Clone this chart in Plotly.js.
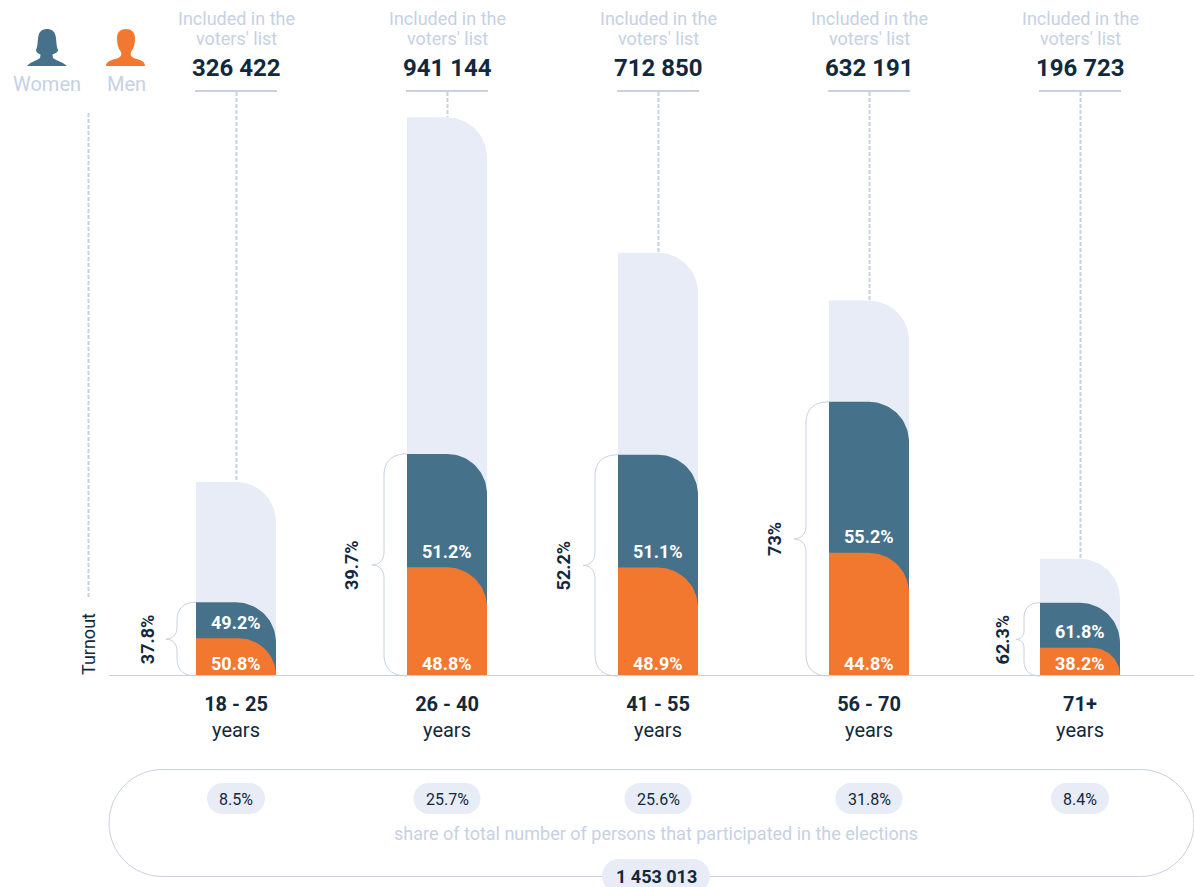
<!DOCTYPE html>
<html>
<head>
<meta charset="utf-8">
<title>Voter turnout by age group</title>
<script src="https://cdn.plot.ly/plotly-3.0.1.min.js"></script>
<style>html,body{margin:0;padding:0;background:#fff;overflow:hidden}#chart{width:1194px;height:887px}</style>
</head>
<body>
<div id="chart"></div>
<script>
const ageBands = ['18 - 25', '26 - 40', '41 - 55', '56 - 70', '71+'];
const bandUnits = ['years', 'years', 'years', 'years', 'years'];
const votersList = [326422, 941144, 712850, 632191, 196723];
const turnoutPct = [37.8, 39.7, 52.2, 73, 62.3];
const womenShare = [49.2, 51.2, 51.1, 55.2, 61.8];
const menShare = [50.8, 48.8, 48.9, 44.8, 38.2];
const electionShare = [8.5, 25.7, 25.6, 31.8, 8.4];
const totalParticipants = 1453013;

const W = 1194, H = 887;
const BASE_Y = 675, ZERO_Y = 675.5, VALUE_PER_PX = 1686, STEP = 211, FIRST_X = 236, HALF = 40, MAXR = 40;
const AXIS_LEFT = 109;
const C = {light:'#e8ecf6', women:'#46718a', men:'#f3782f', ink:'#12293d', mute:'#c6d1e4', line:'#c6d1e4'};
const FONT = 'Roboto, sans-serif';

const fmt = n => String(n).replace(/\B(?=(\d{3})+$)/g, ' ');
const pctTxt = v => v + '%';
const xPx = i => FIRST_X + i * STEP;
const yPx = v => ZERO_Y - v / VALUE_PER_PX;
const P = (x, y) => (x / W) + ',' + (1 - y / H);
const fx = x => x / W, fy = y => 1 - y / H;

const turnoutVotes = votersList.map((v, i) => v * turnoutPct[i] / 100);
const menVotes = turnoutVotes.map((v, i) => v * menShare[i] / 100);

/* A bar with a rounded top-right corner, in data units of the chart's axes */
function barTrace(values, color, name) {
  const xs = [], ys = [];
  values.forEach((v, i) => {
    const hw = HALF / STEP;
    const rPx = Math.min(v / VALUE_PER_PX, MAXR);
    const rx = rPx / STEP, ry = rPx * VALUE_PER_PX;
    xs.push(i - hw, i - hw, i + hw - rx);
    ys.push(0, v, v);
    for (let a = 1; a <= 24; a++) {
      const t = a / 24 * Math.PI / 2;
      xs.push(i + hw - rx + rx * Math.sin(t));
      ys.push(v - ry + ry * Math.cos(t));
    }
    xs.push(i + hw, i - hw, null);
    ys.push(0, 0, null);
  });
  return {type:'scatter', mode:'lines', x:xs, y:ys, name:name, fill:'toself', fillcolor:color,
          line:{width:0, color:color}, hoverinfo:'skip', showlegend:false};
}

const traces = [
  barTrace(votersList, C.light, "Included in the voters' list"),
  barTrace(turnoutVotes, C.women, 'Women'),
  barTrace(menVotes, C.men, 'Men')
];

function roundRect(x0, y0, x1, y1, r) {
  const k = r * 0.4477;
  return 'M' + P(x0 + r, y0) + ' L' + P(x1 - r, y0) +
    ' C' + P(x1 - k, y0) + ' ' + P(x1, y0 + k) + ' ' + P(x1, y0 + r) +
    ' L' + P(x1, y1 - r) +
    ' C' + P(x1, y1 - k) + ' ' + P(x1 - k, y1) + ' ' + P(x1 - r, y1) +
    ' L' + P(x0 + r, y1) +
    ' C' + P(x0 + k, y1) + ' ' + P(x0, y1 - k) + ' ' + P(x0, y1 - r) +
    ' L' + P(x0, y0 + r) +
    ' C' + P(x0, y0 + k) + ' ' + P(x0 + k, y0) + ' ' + P(x0 + r, y0) + ' Z';
}
function pathShape(path, fill, stroke, width) {
  return {type:'path', xref:'paper', yref:'paper', path:path, layer:'above',
          fillcolor:fill || 'rgba(0,0,0,0)', line:{color:stroke || 'rgba(0,0,0,0)', width:width || 0}};
}
function lineShape(x0, y0, x1, y1, w, dash) {
  return {type:'line', xref:'paper', yref:'paper', x0:fx(x0), y0:fy(y0), x1:fx(x1), y1:fy(y1), layer:'below',
          line:{color:C.line, width:w, dash:dash || 'solid'}};
}

const bracketInset = [19, 23, 23, 23, 16];
const bracketTip = [11, 12, 12, 12, 8];
const bracketLabelGap = [19, 20, 20, 19, 14];

function bracket(i) {
  const edge = xPx(i) - HALF, sx = edge - bracketInset[i], tx = sx - bracketTip[i];
  const top = yPx(turnoutVotes[i]), bot = BASE_Y + 1, mid = (top + bot) / 2;
  const r = bracketInset[i] * 0.95, t = bracketTip[i];
  return 'M' + P(edge, top) +
    ' C' + P(sx + r * 0.4, top) + ' ' + P(sx, top + r * 0.3) + ' ' + P(sx, top + r) +
    ' L' + P(sx, mid - t * 1.1) +
    ' C' + P(sx, mid - t * 0.3) + ' ' + P(sx - t * 0.5, mid) + ' ' + P(tx, mid) +
    ' C' + P(sx - t * 0.5, mid) + ' ' + P(sx, mid + t * 0.3) + ' ' + P(sx, mid + t * 1.1) +
    ' L' + P(sx, bot - r) +
    ' C' + P(sx, bot - r * 0.3) + ' ' + P(sx + r * 0.4, bot) + ' ' + P(edge, bot);
}

const womanIcon = 'M' + P(27, 66) + ' C' + P(30, 62) + ' ' + P(36, 61) + ' ' + P(40, 58) +
  ' L' + P(40.5, 54.5) + ' C' + P(38, 53.5) + ' ' + P(36, 52.5) + ' ' + P(36, 50) +
  ' C' + P(38, 46) + ' ' + P(37.5, 39) + ' ' + P(38.5, 35.5) + ' C' + P(39.5, 31) + ' ' + P(43, 29) + ' ' + P(47, 29) +
  ' C' + P(51, 29) + ' ' + P(54.5, 31) + ' ' + P(55.5, 35.5) + ' C' + P(56.5, 39) + ' ' + P(56, 46) + ' ' + P(58, 50) +
  ' C' + P(58, 52.5) + ' ' + P(55, 53.5) + ' ' + P(52.5, 54.5) + ' L' + P(53, 58) +
  ' C' + P(57, 61) + ' ' + P(63, 62) + ' ' + P(67, 66) + ' Z';
const manIcon = 'M' + P(106, 66) + ' C' + P(106, 61) + ' ' + P(112, 60) + ' ' + P(117, 58.5) +
  ' C' + P(121, 57) + ' ' + P(122, 55) + ' ' + P(121, 52) + ' C' + P(118, 48) + ' ' + P(117, 44) + ' ' + P(117, 38) +
  ' C' + P(117, 32) + ' ' + P(121, 29) + ' ' + P(126, 29) + ' C' + P(131, 29) + ' ' + P(135, 32) + ' ' + P(135, 38) +
  ' C' + P(135, 44) + ' ' + P(134, 48) + ' ' + P(131, 52) + ' C' + P(130, 55) + ' ' + P(131, 57) + ' ' + P(135, 58.5) +
  ' C' + P(140, 60) + ' ' + P(145, 61) + ' ' + P(145, 66) + ' Z';

const shapes = [];
shapes.push(pathShape(womanIcon, C.women));
shapes.push(pathShape(manIcon, C.men));
shapes.push(lineShape(88.5, 113, 88.5, 597, 2, '4px,2px'));
ageBands.forEach((_, i) => {
  const cx = xPx(i);
  shapes.push(lineShape(cx - 41, 91, cx + 41, 91, 2));
  shapes.push(lineShape(cx + 0.5, 92, cx + 0.5, yPx(votersList[i]), 2, '4px,2px'));
  shapes.push(pathShape(bracket(i), null, C.line, 1));
});
shapes.push(pathShape(roundRect(109, 769.5, 1194, 876.5, 53.5), null, C.line, 1));
electionShare.forEach((v, i) => {
  const w = 22 + 9 * pctTxt(v).length, cx = xPx(i);
  shapes.push(pathShape(roundRect(cx - w / 2, 783, cx + w / 2, 814, 15.5), C.light));
});
shapes.push(pathShape(roundRect(602, 859, 710, 893, 17), C.light));

const ann = [];
function text(x, y, t, size, color, bold, angle) {
  ann.push({xref:'paper', yref:'paper', x:fx(x), y:fy(y), text:bold ? '<b>' + t + '</b>' : t,
    showarrow:false, xanchor:'center', yanchor:'middle', textangle:angle || 0,
    font:{family:FONT, size:size, color:color}});
}
text(46.5, 84, 'Women', 20, C.mute);
text(126, 84, 'Men', 20, C.mute);
text(88, 644, 'Turnout', 18, C.ink, false, -90);
ageBands.forEach((_, i) => {
  const cx = xPx(i);
  text(cx, 18, 'Included in the', 18, C.mute);
  text(cx, 39, "voters' list", 18, C.mute);
  text(cx, 68, fmt(votersList[i]), 24, C.ink, true);
  const top = yPx(turnoutVotes[i]), mid = (top + BASE_Y + 1) / 2;
  text(cx - HALF - bracketInset[i] - bracketTip[i] - bracketLabelGap[i], mid, pctTxt(turnoutPct[i]), 18, C.ink, true, -90);
  text(cx, yPx(menVotes[i]) - 16, pctTxt(womenShare[i]), 18, '#ffffff', true);
  text(cx, 663, pctTxt(menShare[i]), 18, '#ffffff', true);
  text(cx, 799, pctTxt(electionShare[i]), 16, C.ink);
});
text(655.5, 833, 'share of total number of persons that participated in the elections', 18, C.mute);
text(656, 876, fmt(totalParticipants), 18, C.ink, true);

const layout = {
  width: W, height: H,
  margin: {l:0, r:0, t:0, b:0, pad:0},
  paper_bgcolor: '#ffffff', plot_bgcolor: '#ffffff',
  font: {family: FONT},
  showlegend: false, hovermode: false, dragmode: false,
  xaxis: {
    domain: [AXIS_LEFT / W, 1],
    range: [(AXIS_LEFT - FIRST_X) / STEP, (W - FIRST_X) / STEP],
    tickvals: ageBands.map((_, i) => i),
    ticktext: ageBands.map((b, i) => '<b>' + b + '</b><br>' + bandUnits[i]),
    tickfont: {family: FONT, size: 20, color: C.ink},
    ticks: 'outside', ticklen: 11, tickcolor: 'rgba(0,0,0,0)', tickwidth: 1,
    showgrid: false, zeroline: false, showline: true, linecolor: C.line, linewidth: 1,
    automargin: false, fixedrange: true
  },
  yaxis: {
    domain: [1 - BASE_Y / H, 1],
    range: [(ZERO_Y - BASE_Y) * VALUE_PER_PX, ZERO_Y * VALUE_PER_PX],
    visible: false, showgrid: false, zeroline: false, fixedrange: true, automargin: false
  },
  shapes: shapes,
  annotations: ann
};
Plotly.newPlot('chart', traces, layout, {displayModeBar:false, staticPlot:true});
</script>
</body>
</html>
